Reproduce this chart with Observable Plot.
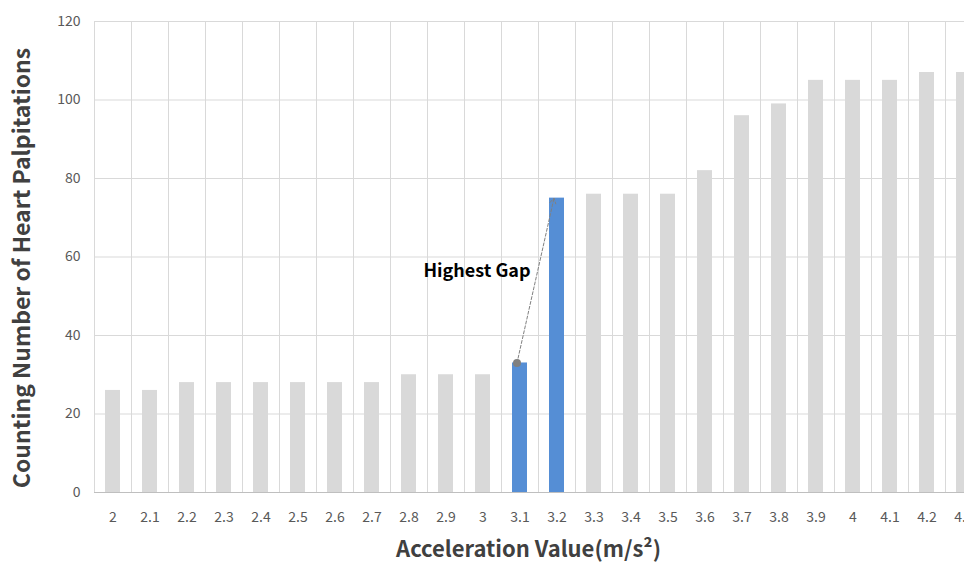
<!DOCTYPE html>
<html>
<head>
<meta charset="utf-8">
<script src="https://cdn.jsdelivr.net/npm/d3@7"></script>
<script src="https://cdn.jsdelivr.net/npm/@observablehq/plot@0.6"></script>
<style>
  html, body { margin: 0; padding: 0; background: #fff; overflow: hidden; }
  #chart { width: 964px; height: 563px; overflow: hidden; }
  #chart svg { max-width: none !important; display: block; }
</style>
</head>
<body>
<div id="chart"></div>
<script>
const categories = ["2","2.1","2.2","2.3","2.4","2.5","2.6","2.7","2.8","2.9","3","3.1","3.2","3.3","3.4","3.5","3.6","3.7","3.8","3.9","4","4.1","4.2","4.3"];
const counts = [26,26,28,28,28,28,28,28,30,30,30,33,75,76,76,76,82,96,99,105,105,105,107,107];
const highlighted = ["3.1","3.2"];
const yTicks = [0,20,40,60,80,100,120];
const gapFrom = {x: "3.1", y: 33};
const gapTo = {x: "3.2", y: 75};
const gapLabel = {x: "3", y: 56.5, text: "Highest Gap"};
const yTitle = "Counting Number of Heart Palpitations";
const xTitle = "Acceleration Value(m/s²)";

const data = categories.map((c, i) => ({cat: c, value: counts[i], hi: highlighted.includes(c)}));

const W = 990, ML = 94, MR = 8;
const step = (W - ML - MR) / categories.length;
const font = "'Noto Sans CJK KR', 'Noto Sans', sans-serif";

const chart = Plot.plot({
  width: W,
  height: 563,
  marginLeft: ML,
  marginRight: MR,
  marginTop: 21,
  marginBottom: 71,
  style: {fontFamily: font, fontSize: "14px", color: "#595959", background: "#fff", maxWidth: "none"},
  x: {domain: categories, type: "band", paddingInner: 0.6, paddingOuter: 0.3, align: 0.5},
  y: {domain: [0, 120], ticks: yTicks},
  marks: [
    Plot.ruleY(yTicks.filter(d => d > 0), {stroke: "#d9d9d9", strokeWidth: 1}),
    Plot.ruleX(categories, {x: d => d, dx: -step / 2, stroke: "#d9d9d9", strokeWidth: 1}),
    Plot.barY(data, {x: "cat", y: "value", fill: d => d.hi ? "#558ED5" : "#D9D9D9"}),
    Plot.ruleY([0], {stroke: "#bfbfbf", strokeWidth: 1}),
    Plot.axisY({ticks: yTicks, tickSize: 0, tickPadding: 14, label: null, fontSize: 14, fill: "#595959"}),
    Plot.axisX({tickSize: 0, tickPadding: 20, label: null, fontSize: 14, fill: "#595959"}),
    Plot.arrow([{x1: gapFrom.x, y1: gapFrom.y, x2: gapTo.x, y2: gapTo.y}], {
      x1: "x1", y1: "y1", x2: "x2", y2: "y2",
      stroke: "#808080", strokeWidth: 1, strokeDasharray: "3,2", headLength: 9, dx: -3
    }),
    Plot.dot([gapFrom], {x: "x", y: "y", r: 4, fill: "#808080", dx: -3}),
    Plot.text([gapLabel], {x: "x", y: "y", text: "text", fontSize: 18, fontWeight: "bold", fill: "#000", dx: -6}),
    Plot.text([yTitle], {frameAnchor: "left", textAnchor: "middle", text: d => d, rotate: -90, dx: -72, dy: 11, fontSize: 23, fontWeight: "bold", fill: "#404040"}),
    Plot.text([xTitle], {frameAnchor: "bottom", textAnchor: "middle", text: d => d, dx: -10, dy: 64, fontSize: 22, fontWeight: "bold", fill: "#404040"})
  ]
});
document.getElementById("chart").appendChild(chart);
</script>
</body>
</html>
